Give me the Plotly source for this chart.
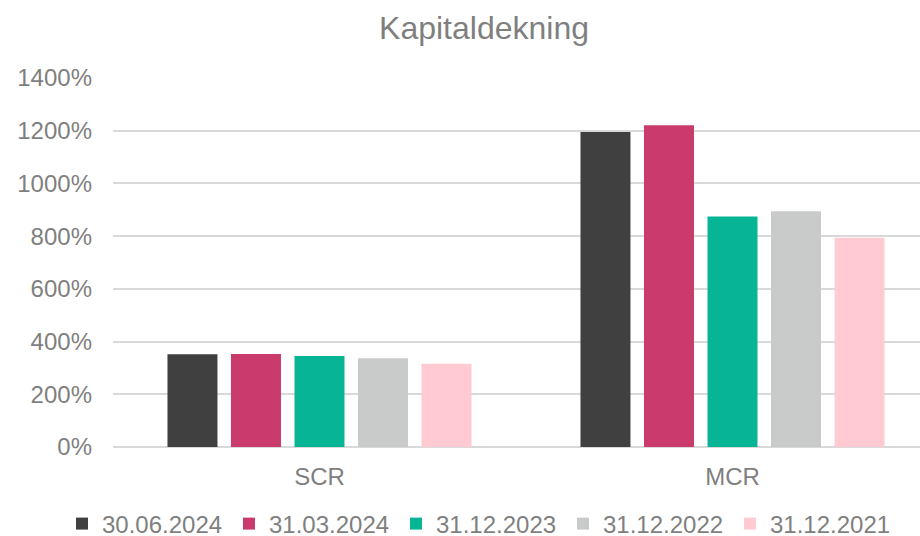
import plotly.graph_objects as go

categories = ["SCR", "MCR"]
series_names = ["30.06.2024", "31.03.2024", "31.12.2023", "31.12.2022", "31.12.2021"]
values = {
    "30.06.2024": [352, 1195],
    "31.03.2024": [353, 1221],
    "31.12.2023": [345, 875],
    "31.12.2022": [337, 894],
    "31.12.2021": [316, 794],
}
colors = ["#404040", "#CB3A6D", "#07B595", "#C9CACA", "#FFCAD1"]
y_ticks = [0, 200, 400, 600, 800, 1000, 1200, 1400]
y_tick_labels = [f"{v}%" for v in y_ticks]

fig = go.Figure()
for name, col in zip(series_names, colors):
    fig.add_trace(go.Bar(x=categories, y=values[name], name=name,
                         marker=dict(color=col, line=dict(width=0))))

font_color = "#7F7F7F"
fig.update_layout(
    width=920, height=536,
    margin=dict(l=113, r=0, t=78, b=89, autoexpand=False),
    paper_bgcolor="white", plot_bgcolor="white",
    font=dict(family="Liberation Sans, Arial, sans-serif", size=24, color=font_color),
    barmode="group", bargap=0.231, bargroupgap=0.213,
    title=dict(text="Kapitaldekning", x=484/920, xanchor="center", y=1-28/536, yanchor="middle",
               font=dict(size=32, color=font_color)),
    showlegend=True,
    legend=dict(orientation="h", xref="paper", yref="paper",
                x=(62-113)/807, xanchor="left", y=-(524-447)/369, yanchor="middle",
                font=dict(size=24, color=font_color), traceorder="normal",
                itemwidth=30, entrywidth=122, entrywidthmode="pixels"),
    xaxis=dict(range=[-0.5, -0.5 + 807/413], showgrid=False, showline=False, zeroline=False,
               ticks="", ticklabelstandoff=13, automargin=False,
               tickfont=dict(size=24, color=font_color)),
    yaxis=dict(range=[0, 1400], tickvals=y_ticks, ticktext=y_tick_labels,
               showgrid=True, gridcolor="#D9D9D9", gridwidth=1.5,
               zeroline=True, zerolinecolor="#D9D9D9", zerolinewidth=1.5,
               showline=False, ticks="", ticklabelstandoff=20, automargin=False,
               tickfont=dict(size=24, color=font_color)),
)
fig.write_html("out.html", config={"displayModeBar": False},
               post_script="document.body.style.margin='0';document.body.style.overflow='hidden';")
